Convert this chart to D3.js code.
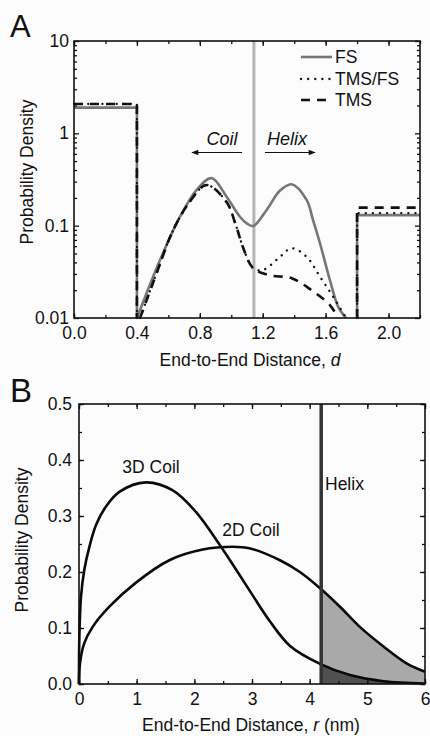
<!DOCTYPE html>
<html>
<head>
<meta charset="utf-8">
<script src="https://cdn.jsdelivr.net/npm/d3@7"></script>
<style>
body { margin: 0; background: #fcfcfc; }
svg { display: block; font-family: "Liberation Sans", Arial, sans-serif; }
</style>
</head>
<body>
<div id="chart"></div>
<script>

// ---- panel A : end-to-end distance d, probability density (log) ----
var distTicksA = [0, 0.4, 0.8, 1.2, 1.6, 2.0];
var densTicksA = [0.01, 0.1, 1, 10];
var stepEdges  = [0, 0.4, 1.8, 2.2];      // flat end bins
var fsSteps    = [1.9, 0.13];
var tmsfsSteps = [2.08, 0.137];
var tmsSteps   = [2.08, 0.157];

var fsCurve = [[0.4,0.01],[0.547,0.0425],[0.674,0.125],[0.78,0.244],[0.875,0.327],[0.97,0.206],
  [1.055,0.125],[1.098,0.106],[1.14,0.099],[1.225,0.148],[1.31,0.24],[1.384,0.281],[1.479,0.19],
  [1.52,0.115],[1.564,0.0645],[1.627,0.0258],[1.68,0.0132],[1.73,0.01]];
var tmsfsCurve = [[0.42,0.01],[0.525,0.0305],[0.631,0.0898],[0.737,0.182],[0.843,0.276],[0.97,0.18],
  [1.03,0.1],[1.08,0.055],[1.14,0.0345],[1.2,0.033],[1.31,0.046],[1.384,0.057],[1.479,0.046],
  [1.564,0.028],[1.648,0.017],[1.73,0.01]];
var tmsCurve = [[0.42,0.01],[0.525,0.0305],[0.631,0.0898],[0.737,0.182],[0.843,0.276],[0.97,0.18],
  [1.03,0.1],[1.08,0.055],[1.14,0.0345],[1.246,0.029],[1.384,0.027],[1.51,0.02],[1.627,0.0138],[1.68,0.01]];
var helixCutA = 1.144;
var legendLabels = ["FS", "TMS/FS", "TMS"];

// ---- panel B : end-to-end distance r (nm), probability density ----
var distTicksB = [0, 1, 2, 3, 4, 5, 6];
var densTicksB = [0, 0.1, 0.2, 0.3, 0.4, 0.5];
var coil3D = [[0,0],[0.006,0.084],[0.035,0.156],[0.092,0.204],[0.18,0.245],[0.295,0.284],[0.468,0.317],
  [0.7,0.343],[1.16,0.36],[1.62,0.346],[2.03,0.307],[2.43,0.25],[2.72,0.205],[2.97,0.165],[3.31,0.112],
  [3.66,0.068],[4.18,0.036],[4.7,0.016],[5.28,0.005],[6,0.001]];
var coil2D = [[0,0],[0.017,0.037],[0.092,0.073],[0.237,0.102],[0.526,0.138],[0.988,0.181],[1.566,0.221],
  [2.145,0.24],[2.665,0.245],[2.97,0.242],[3.485,0.221],[3.83,0.2],[4.18,0.171],[4.525,0.138],
  [4.87,0.102],[5.28,0.067],[5.68,0.037],[6,0.022]];
var helixCutB = 4.2;


var W = 430, H = 736;
var fontSize = 17.5;

var svg = d3.select("#chart").append("svg")
    .attr("width", W)
    .attr("height", H);

svg.append("rect").attr("width", W).attr("height", H).attr("fill", "#fcfcfc");

var xA = d3.scaleLinear().domain([0, 2.2]).range([74, 420]);
var yA = d3.scaleLog().domain([0.01, 10]).range([318, 41]);
var xB = d3.scaleLinear().domain([0, 6]).range([79, 425]);
var yB = d3.scaleLinear().domain([0, 0.5]).range([684, 404]);

// inward ticks on all four sides, labels only bottom/left
function frame(x, y, xMajor, yMajor, xMinor, yMinor, xFmt, yFmt, xPad, yPad) {
  var x0 = x.range()[0], x1 = x.range()[1], y0 = y.range()[0], y1 = y.range()[1];
  var g = svg.append("g");

  function ax(gen, pos, vals, len, fmt, pad) {
    var a = gen.tickValues(vals).tickSize(-len).tickSizeOuter(0).tickPadding(pad || 3)
        .tickFormat(fmt || "");
    var sel = g.append("g").attr("transform", pos).call(a);
    sel.select(".domain").remove();
    sel.selectAll("line").attr("stroke", "#111").attr("stroke-width", 1.3);
    sel.selectAll("text").attr("font-size", fontSize).attr("fill", "#111")
        .attr("font-family", "Liberation Sans, Arial, sans-serif");
    return sel;
  }
  // minor
  ax(d3.axisBottom(x), "translate(0," + y0 + ")", xMinor, 3);
  ax(d3.axisTop(x), "translate(0," + y1 + ")", xMinor, 3);
  ax(d3.axisLeft(y), "translate(" + x0 + ",0)", yMinor, 3);
  ax(d3.axisRight(y), "translate(" + x1 + ",0)", yMinor, 3);
  // major
  ax(d3.axisBottom(x), "translate(0," + y0 + ")", xMajor, 5, xFmt, xPad);
  ax(d3.axisTop(x), "translate(0," + y1 + ")", xMajor, 5);
  ax(d3.axisLeft(y), "translate(" + x0 + ",0)", yMajor, 5, yFmt, yPad);
  ax(d3.axisRight(y), "translate(" + x1 + ",0)", yMajor, 5);

  g.append("rect")
      .attr("x", x0).attr("y", y1)
      .attr("width", x1 - x0).attr("height", y0 - y1)
      .attr("fill", "none").attr("stroke", "#111").attr("stroke-width", 1.6);
}

// ================= panel A =================
var lineLin = d3.line().x(function(d){ return xA(d[0]); }).y(function(d){ return yA(d[1]); });
var lineSmooth = d3.line().curve(d3.curveCatmullRom.alpha(0.5))
    .x(function(d){ return xA(d[0]); }).y(function(d){ return yA(d[1]); });

// helix / coil divider
svg.append("line")
    .attr("x1", xA(helixCutA)).attr("x2", xA(helixCutA))
    .attr("y1", yA(10)).attr("y2", yA(0.01))
    .attr("stroke", "#b4b4b4").attr("stroke-width", 3);

var seriesA = [
  { name: legendLabels[0], steps: fsSteps,    curve: fsCurve,    color: "#767676", width: 2.6, dash: null,    cap: "butt" },
  { name: legendLabels[1], steps: tmsfsSteps, curve: tmsfsCurve, color: "#111",    width: 2.3, dash: "0.1 7", cap: "round" },
  { name: legendLabels[2], steps: tmsSteps,   curve: tmsCurve,   color: "#111",    width: 2.6, dash: "9 7",   cap: "butt" }
];

seriesA.forEach(function(s) {
  var left = [[stepEdges[0], s.steps[0]], [stepEdges[1], s.steps[0]], [stepEdges[1], 0.01]];
  var right = [[stepEdges[2], 0.01], [stepEdges[2], s.steps[1]], [stepEdges[3], s.steps[1]]];
  [[left, lineLin], [s.curve, lineSmooth], [right, lineLin]].forEach(function(p) {
    svg.append("path")
        .attr("d", p[1](p[0]))
        .attr("fill", "none")
        .attr("stroke", s.color)
        .attr("stroke-width", s.width)
        .attr("stroke-dasharray", s.dash)
        .attr("stroke-linecap", s.cap);
  });
});

frame(xA, yA, distTicksA, densTicksA, xA.ticks(11),
      yA.ticks().filter(function(v){ return densTicksA.indexOf(v) < 0; }),
      d3.format(".1f"), function(v){ return String(v); }, 9, 5);

// legend
var legend = svg.append("g").selectAll("g").data(seriesA).enter().append("g")
    .attr("transform", function(d, i){ return "translate(0," + [57, 79, 100][i] + ")"; });
legend.append("line")
    .attr("x1", 301).attr("x2", 332)
    .attr("stroke", function(d){ return d.color; })
    .attr("stroke-width", function(d){ return d.width; })
    .attr("stroke-dasharray", function(d){ return d.dash; })
    .attr("stroke-linecap", function(d){ return d.cap; });
legend.append("text")
    .attr("x", 335).attr("dy", "0.36em")
    .attr("font-size", fontSize).attr("fill", "#111")
    .text(function(d){ return d.name; });

// coil / helix arrows
var defs = svg.append("defs");
defs.append("marker").attr("id", "arr")
    .attr("viewBox", "0 0 10 10").attr("refX", 9).attr("refY", 5)
    .attr("markerWidth", 9).attr("markerHeight", 7).attr("markerUnits", "userSpaceOnUse")
    .attr("orient", "auto")
  .append("path").attr("d", "M0,1 L10,5 L0,9 Z").attr("fill", "#111");

svg.append("line").attr("x1", 242).attr("x2", 192).attr("y1", 152.5).attr("y2", 152.5)
    .attr("stroke", "#111").attr("stroke-width", 1.2).attr("marker-end", "url(#arr)");
svg.append("line").attr("x1", 265).attr("x2", 315).attr("y1", 152.5).attr("y2", 152.5)
    .attr("stroke", "#111").attr("stroke-width", 1.2).attr("marker-end", "url(#arr)");
svg.append("text").attr("x", 222).attr("y", 145).attr("text-anchor", "middle")
    .attr("font-size", 18).attr("font-style", "italic").attr("fill", "#111").text("Coil");
svg.append("text").attr("x", 287).attr("y", 145).attr("text-anchor", "middle")
    .attr("font-size", 18).attr("font-style", "italic").attr("fill", "#111").text("Helix");

// titles
svg.append("text").attr("x", 10).attr("y", 37).attr("font-size", 31).attr("fill", "#111").text("A");
svg.append("text").attr("transform", "translate(33,172) rotate(-90)")
    .attr("text-anchor", "middle").attr("font-size", fontSize).attr("fill", "#111")
    .text("Probability Density");
var tA = svg.append("text").attr("x", 250).attr("y", 366).attr("text-anchor", "middle")
    .attr("font-size", fontSize).attr("fill", "#111");
tA.append("tspan").text("End-to-End Distance, ");
tA.append("tspan").attr("font-style", "italic").text("d");

// ================= panel B =================
var lineB = d3.line().curve(d3.curveCatmullRom.alpha(0.5))
    .x(function(d){ return xB(d[0]); }).y(function(d){ return yB(d[1]); });
var areaB = d3.area().curve(d3.curveCatmullRom.alpha(0.5))
    .x(function(d){ return xB(d[0]); }).y0(yB(0)).y1(function(d){ return yB(d[1]); });

// part of a curve beyond the helix cut (value at the cut read by linear interpolation)
function beyond(pts, cut) {
  var i = d3.bisector(function(d){ return d[0]; }).left(pts, cut);
  var a = pts[i - 1], b = pts[i];
  var v = a[1] + (b[1] - a[1]) * (cut - a[0]) / (b[0] - a[0]);
  return [[cut, v]].concat(pts.slice(i));
}

svg.append("path").attr("d", areaB(beyond(coil2D, helixCutB))).attr("fill", "#a9a9a9");
svg.append("path").attr("d", areaB(beyond(coil3D, helixCutB))).attr("fill", "#505050");

[coil3D, coil2D].forEach(function(c) {
  svg.append("path").attr("d", lineB(c))
      .attr("fill", "none").attr("stroke", "#0a0a0a").attr("stroke-width", 2.6);
});

svg.append("line")
    .attr("x1", xB(helixCutB)).attr("x2", xB(helixCutB))
    .attr("y1", yB(0)).attr("y2", yB(0.5))
    .attr("stroke", "#333").attr("stroke-width", 3.5);

frame(xB, yB, distTicksB, densTicksB, xB.ticks(12), yB.ticks(10),
      d3.format("d"), d3.format(".1f"), 9, 7);

svg.append("text").attr("x", 151).attr("y", 473).attr("text-anchor", "middle")
    .attr("font-size", fontSize).attr("fill", "#111").text("3D Coil");
svg.append("text").attr("x", 251).attr("y", 536).attr("text-anchor", "middle")
    .attr("font-size", fontSize).attr("fill", "#111").text("2D Coil");
svg.append("text").attr("x", 325).attr("y", 490)
    .attr("font-size", fontSize).attr("fill", "#111").text("Helix");

svg.append("text").attr("x", 10).attr("y", 402).attr("font-size", 33).attr("fill", "#111").text("B");
svg.append("text").attr("transform", "translate(28,540) rotate(-90)")
    .attr("text-anchor", "middle").attr("font-size", fontSize).attr("fill", "#111")
    .text("Probability Density");
var tB = svg.append("text").attr("x", 251).attr("y", 731).attr("text-anchor", "middle")
    .attr("font-size", fontSize).attr("fill", "#111");
tB.append("tspan").text("End-to-End Distance, ");
tB.append("tspan").attr("font-style", "italic").text("r");
tB.append("tspan").text(" (nm)");

</script>
</body>
</html>
